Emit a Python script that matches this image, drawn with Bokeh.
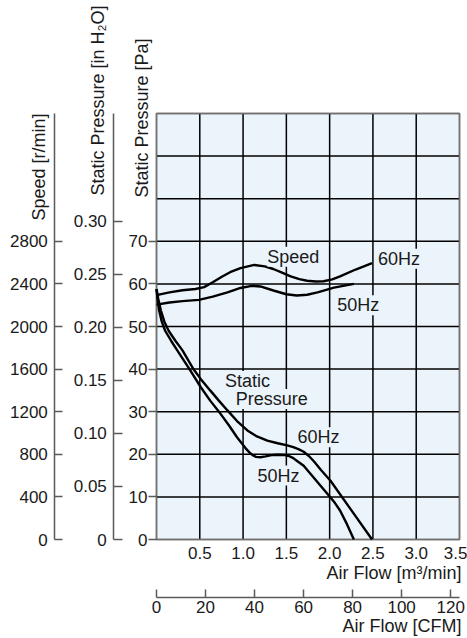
import math
from bokeh.plotting import figure
from bokeh.models import Range1d, LinearAxis, FixedTicker, Label, NumeralTickFormatter
from bokeh.embed import file_html
from bokeh.resources import INLINE

# ---------------- data ----------------
# static pressure, 60 Hz  (air flow m3/min, Pa)
sp60_flow = [0.0, 0.02, 0.05, 0.09, 0.14, 0.22, 0.30, 0.43, 0.51, 0.62, 0.72, 0.82, 0.93,
             1.05, 1.16, 1.28, 1.40, 1.51, 1.58, 1.64, 1.70, 1.76, 1.82, 1.90, 2.01, 2.25,
             2.49]
sp60_pa = [58.8, 56.5, 53.8, 51.2, 49.0, 46.6, 44.4, 39.9, 37.7, 35.0, 32.6, 30.3, 27.8,
           25.6, 24.2, 23.2, 22.6, 22.1, 21.7, 21.2, 20.6, 19.6, 18.3, 16.3, 13.8, 6.9,
           0.0]
# static pressure, 50 Hz
sp50_flow = [0.0, 0.015, 0.03, 0.06, 0.10, 0.17, 0.24, 0.39, 0.51, 0.62, 0.74, 0.84, 0.93,
             0.98, 1.03, 1.07, 1.11, 1.15, 1.20, 1.26, 1.33, 1.40, 1.47, 1.53, 1.58, 1.62,
             1.70, 1.80, 1.90, 2.00, 2.06, 2.12, 2.20, 2.28]
sp50_pa = [58.8, 56.0, 53.8, 51.2, 49.0, 46.6, 44.4, 39.7, 35.8, 32.6, 29.5, 26.7, 24.0,
           22.7, 21.4, 20.5, 19.8, 19.4, 19.3, 19.5, 19.8, 19.9, 19.85, 19.6, 19.1, 18.5,
           17.3, 14.9, 12.5, 10.1, 8.6, 6.8, 3.6, 0.0]
# speed, 60 Hz (air flow m3/min, r/min)
spd60_flow = [0.0, 0.15, 0.30, 0.45, 0.55, 0.65, 0.75, 0.85, 0.97, 1.13, 1.25, 1.35, 1.45,
              1.55, 1.65, 1.74, 1.84, 1.93, 2.03, 2.12, 2.30, 2.49]
spd60_rpm = [2295, 2320, 2340, 2352, 2370, 2415, 2465, 2510, 2548, 2578, 2565, 2540, 2505,
             2470, 2445, 2430, 2422, 2425, 2442, 2470, 2535, 2595]
# speed, 50 Hz
spd50_flow = [0.0, 0.15, 0.30, 0.49, 0.65, 0.82, 0.97, 1.10, 1.20, 1.35, 1.50, 1.62, 1.74,
              1.86, 2.05, 2.28]
spd50_rpm = [2205, 2225, 2238, 2250, 2280, 2321, 2362, 2382, 2376, 2338, 2303, 2291, 2298,
             2320, 2365, 2400]

pa_ticks = [0, 10, 20, 30, 40, 50, 60, 70]
inh2o_ticks = [0, 0.05, 0.10, 0.15, 0.20, 0.25, 0.30]
speed_ticks = [0, 400, 800, 1200, 1600, 2000, 2400, 2800]
flow_ticks = [0.5, 1.0, 1.5, 2.0, 2.5, 3.0, 3.5]
cfm_ticks = [0, 20, 40, 60, 80, 100, 120]
grid_flow = [0.5, 1.0, 1.5, 2.0, 2.5, 3.0]
grid_pa = [10, 20, 30, 40, 50, 60, 70, 80, 90]

PA_MAX = 100
FLOW_MAX = 3.5
PA_PER_INH2O = 249.089
RPM_PER_PA = 40
M3MIN_PER_CFM = 0.0283168

# ---------------- layout (pixels) ----------------
W, H = 467, 638
X0_PX, Y0_PX = 156.0, 539.0          # chart origin on the page
PX_PER_FLOW = 303.0 / FLOW_MAX
PX_PER_PA = 426.0 / PA_MAX


def fx(px):
    return (px - X0_PX) / PX_PER_FLOW


def fy(py):
    return (Y0_PX - py) / PX_PER_PA


FONT = "Liberation Sans"
BG = "#EBF3FB"
AXC = "#5a5a5a"
FRAMEC = "#707070"
TXT = "#1a1a1a"

x_lo, x_hi = fx(0), fx(W)
y_lo, y_hi = fy(H), fy(0)

p = figure(width=W, height=H, min_border=0,
           x_range=Range1d(x_lo, x_hi), y_range=Range1d(y_lo, y_hi),
           toolbar_location=None, output_backend="svg",
           outline_line_color=None, background_fill_color="white",
           border_fill_color="white")
p.extra_y_ranges = {
    "speed": Range1d(y_lo * RPM_PER_PA, y_hi * RPM_PER_PA),
    "inh2o": Range1d(y_lo / PA_PER_INH2O, y_hi / PA_PER_INH2O),
}
p.extra_x_ranges = {"cfm": Range1d(x_lo / M3MIN_PER_CFM, x_hi / M3MIN_PER_CFM)}
p.xgrid.visible = False
p.ygrid.visible = False


def base_axis_style(ax, size="17px"):
    ax.minor_tick_in = 0
    ax.minor_tick_out = 0
    ax.major_label_text_font = FONT
    ax.major_label_text_font_size = size
    ax.major_label_text_color = TXT
    ax.major_tick_line_color = AXC
    ax.major_tick_line_width = 1.5
    ax.axis_line_color = AXC
    ax.axis_line_width = 1.5


# Pa axis (on the chart's left edge)
ya = p.yaxis[0]
base_axis_style(ya)
ya.fixed_location = 0
ya.bounds = (0, PA_MAX)
ya.ticker = FixedTicker(ticks=pa_ticks)
ya.major_tick_out = 8
ya.major_tick_in = 0
ya.axis_line_color = None
ya.major_label_standoff = 1

# in H2O axis
ax_in = LinearAxis(y_range_name="inh2o", fixed_location=fx(113.3),
                   bounds=(0, PA_MAX / PA_PER_INH2O))
base_axis_style(ax_in)
ax_in.ticker = FixedTicker(ticks=inh2o_ticks)
ax_in.formatter = NumeralTickFormatter(format="0.00")
ax_in.major_label_overrides = {0: "0"}
ax_in.major_tick_in = 9
ax_in.major_tick_out = 0
ax_in.major_label_standoff = 7
p.add_layout(ax_in, "left")

# speed axis
ax_sp = LinearAxis(y_range_name="speed", fixed_location=fx(54.3),
                   bounds=(0, PA_MAX * RPM_PER_PA))
base_axis_style(ax_sp)
ax_sp.ticker = FixedTicker(ticks=speed_ticks)
ax_sp.major_tick_in = 8
ax_sp.major_tick_out = 0
ax_sp.major_label_standoff = 7
p.add_layout(ax_sp, "left")

# air flow m3/min axis (chart's bottom edge)
xa = p.xaxis[0]
base_axis_style(xa)
xa.fixed_location = 0
xa.bounds = (0, FLOW_MAX)
xa.ticker = FixedTicker(ticks=flow_ticks)
xa.formatter = NumeralTickFormatter(format="0.0")
xa.major_tick_in = 0
xa.major_tick_out = 0
xa.major_tick_line_color = None
xa.axis_line_color = None
xa.major_label_standoff = 7

# air flow CFM axis
ax_cfm = LinearAxis(x_range_name="cfm", fixed_location=fy(597),
                    bounds=(0, FLOW_MAX / M3MIN_PER_CFM))
base_axis_style(ax_cfm)
ax_cfm.ticker = FixedTicker(ticks=cfm_ticks)
ax_cfm.major_tick_in = 8
ax_cfm.major_tick_out = 0
ax_cfm.major_label_standoff = 3
p.add_layout(ax_cfm, "below")

# chart area, grid
p.quad(left=[0], right=[FLOW_MAX], bottom=[0], top=[PA_MAX],
       fill_color=BG, line_color=FRAMEC, line_width=1.5)
p.segment(x0=grid_flow, y0=[0] * len(grid_flow), x1=grid_flow, y1=[PA_MAX] * len(grid_flow),
          line_color="black", line_width=1.5)
p.segment(x0=[0] * len(grid_pa), y0=grid_pa, x1=[FLOW_MAX] * len(grid_pa), y1=grid_pa,
          line_color="black", line_width=1.5)
# redraw outline on top of grid ends
p.quad(left=[0], right=[FLOW_MAX], bottom=[0], top=[PA_MAX],
       fill_color=None, line_color=FRAMEC, line_width=1.5)

# curves
p.line(sp60_flow, sp60_pa, line_color="black", line_width=2.4)
p.line(sp50_flow, sp50_pa, line_color="black", line_width=2.4)
p.line(spd60_flow, spd60_rpm, y_range_name="speed", line_color="black", line_width=2.4)
p.line(spd50_flow, spd50_rpm, y_range_name="speed", line_color="black", line_width=2.4)


def curve_label(txt, x, y):
    p.add_layout(Label(x=x, y=y, text=txt, text_align="center", text_baseline="middle",
                       text_font=FONT, text_font_size="18px", text_color=TXT,
                       background_fill_color=BG))


curve_label("Speed", 1.58, 66.4)
curve_label("60Hz", 2.80, 65.9)
curve_label("50Hz", 2.33, 55.0)
curve_label("Static", 1.05, 37.2)
curve_label("Pressure", 1.33, 33.0)
curve_label("60Hz", 1.87, 24.0)
curve_label("50Hz", 1.41, 15.0)


def v_title(txt, right_px, top_px):
    p.add_layout(Label(x=fx(right_px), y=fy(top_px), text=txt, angle=math.pi / 2,
                       text_align="right", text_baseline="bottom", text_font=FONT,
                       text_font_size="18px", text_color=TXT))


def h_title(txt, right_px, base_px):
    p.add_layout(Label(x=fx(right_px), y=fy(base_px), text=txt, text_align="right",
                       text_baseline="alphabetic", text_font=FONT,
                       text_font_size="18px", text_color=TXT))


v_title("Speed [r/min]", 48, 113)
v_title("Static Pressure [in H\u2082O]", 107, 5)
v_title("Static Pressure [Pa]", 151, 38)
h_title("Air Flow [m\u00b3/min]", 461, 572.5)
h_title("Air Flow [CFM]", 461, 625.5)

open("out.html", "w").write(file_html(p, INLINE))
